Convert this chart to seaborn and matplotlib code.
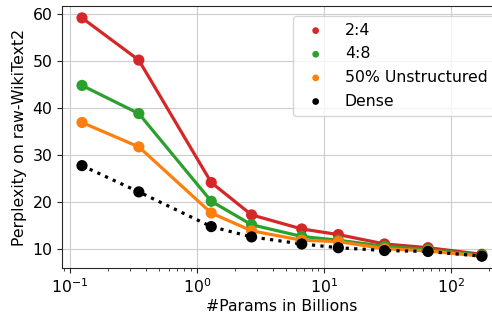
import matplotlib
matplotlib.use("Agg")
import matplotlib.pyplot as plt
import seaborn as sns
import pandas as pd
import numpy as np

params = [0.125, 0.35, 1.3, 2.7, 6.7, 13, 30, 66, 175]
ppl_24 = [59.2, 50.2, 24.1, 17.2, 14.2, 13.0, 11.0, 10.2, 8.8]
ppl_48 = [44.8, 38.8, 20.1, 15.1, 12.6, 11.8, 10.5, 9.8, 8.6]
ppl_50 = [36.9, 31.7, 17.6, 13.8, 11.8, 11.5, 10.0, 9.5, 8.4]
ppl_dense = [27.7, 22.1, 14.7, 12.5, 11.0, 10.2, 9.6, 9.4, 8.4]

labels = ["2:4", "4:8", "50% Unstructured", "Dense"]
series = [ppl_24, ppl_48, ppl_50, ppl_dense]
colors = ["#d62728", "#2ca02c", "#ff7f0e", "black"]
styles = ["-", "-", "-", ":"]

rows = []
for lab, vals in zip(labels, series):
    for p, v in zip(params, vals):
        rows.append({"params": p, "ppl": v, "method": lab})
df = pd.DataFrame(rows)

sns.set_style("whitegrid", {"axes.edgecolor": ".15", "grid.color": ".8",
                            "xtick.bottom": True, "ytick.left": True,
                            "text.color": "black", "axes.labelcolor": "black",
                            "xtick.color": "black", "ytick.color": "black"})
plt.rcParams["font.family"] = ["DejaVu Sans"]
FS = 11.3

fig = plt.figure(figsize=(4.92, 3.15), dpi=100)
ax = fig.add_axes([0.126, 0.149, 0.894, 0.832])

palette = dict(zip(labels, colors))
for lab, ls in zip(labels, styles):
    sub = df[df["method"] == lab]
    sns.lineplot(data=sub, x="params", y="ppl", color=palette[lab], linestyle=ls,
                 linewidth=2.3, ax=ax, legend=False, zorder=2)
    sns.scatterplot(data=sub, x="params", y="ppl", color=palette[lab], s=65,
                    edgecolor="none", ax=ax, label=lab, zorder=3)

ax.set_xscale("log")
ax.set_xlabel("#Params in Billions", fontsize=FS, labelpad=2)
ax.set_ylabel("Perplexity on raw-WikiText2", fontsize=FS)
ax.tick_params(labelsize=FS)
ax.tick_params(which="major", direction="out", color=".15", length=3.5, width=0.8, pad=3.5)
ax.tick_params(which="minor", direction="out", color=".15", length=2, width=0.6, bottom=True)
ax.grid(which="minor", visible=False)
for s in ["left", "bottom", "top", "right"]:
    ax.spines[s].set_visible(True)

leg = ax.legend(loc="upper left", bbox_to_anchor=(0.525, 0.963), borderaxespad=0,
                fontsize=FS, frameon=True, handletextpad=0.85, borderpad=0.45,
                labelspacing=0.55, markerscale=0.6, framealpha=0.8)
leg.get_frame().set_edgecolor(".8")

fig.savefig("out.png", dpi=100)
